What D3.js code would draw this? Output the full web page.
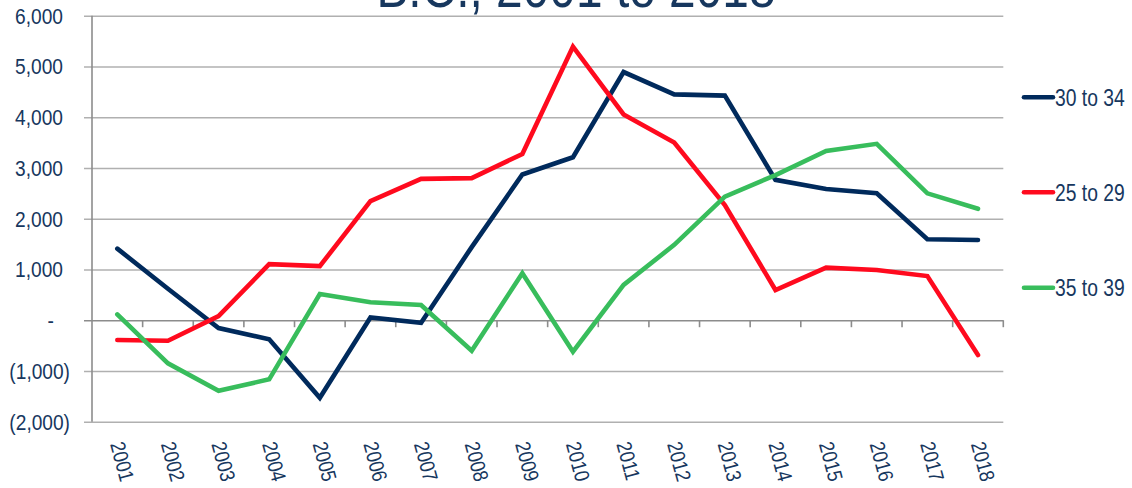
<!DOCTYPE html>
<html>
<head>
<meta charset="utf-8">
<script src="https://cdn.jsdelivr.net/npm/d3@7"></script>
<style>
html,body{margin:0;padding:0;background:#fff;}
svg{display:block;}
text{font-family:"Liberation Sans",Arial,sans-serif;}
</style>
</head>
<body>
<svg id="chart" width="1132" height="488"></svg>
<script>
const years = ["2001","2002","2003","2004","2005","2006","2007","2008","2009","2010","2011","2012","2013","2014","2015","2016","2017","2018"];
const age30to34 = [1410, 620, -155, -375, -1530, 55, -50, 1440, 2870, 3210, 4890, 4450, 4425, 2765, 2585, 2500, 1595, 1580];
const age25to29 = [-390, -405, 80, 1105, 1065, 2345, 2785, 2800, 3275, 5390, 4055, 3500, 2270, 595, 1035, 990, 870, -685];
const age35to39 = [115, -850, -1390, -1165, 515, 355, 300, -600, 925, -620, 695, 1485, 2435, 2860, 3335, 3475, 2500, 2195];
const yTicks = [-2000, -1000, 0, 1000, 2000, 3000, 4000, 5000, 6000];
const titleText = "B.C., 2001 to 2018";

const series = [
  {name: "30 to 34", values: age30to34, color: "#002a5c"},
  {name: "25 to 29", values: age25to29, color: "#ff0a1e"},
  {name: "35 to 39", values: age35to39, color: "#38bd5c"}
];

(function () {
const svg = d3.select("#chart");
const textColor = "#17375e";

const pLeft = 92, pRight = 1003.3, pTop = 15.7, pBottom = 421.7;
const x = d3.scaleBand().domain(years).range([pLeft, pRight]).padding(0);
const y = d3.scaleLinear().domain([-2000, 6000]).range([pBottom, pTop]);
const cx = d => x(d) + x.bandwidth() / 2;

// Title (second line, cropped at top as in the source)
svg.append("text")
  .attr("transform", "translate(576,6.5) scale(0.84,1)")
  .attr("text-anchor", "middle")
  .attr("font-size", 57)
  .attr("fill", textColor)
  .text(titleText);

// Gridlines with outer ticks
const fmt = v => v === 0 ? "-" : (v < 0 ? "(" + d3.format(",")(-v) + ")" : d3.format(",")(v));
const gY = svg.append("g").attr("transform", `translate(${pLeft},0)`)
  .call(d3.axisLeft(y).tickValues(yTicks).tickSize(-(pRight - pLeft)).tickSizeOuter(0).tickFormat(""));
gY.select(".domain").remove();
gY.selectAll(".tick line")
  .attr("x1", -8)
  .attr("stroke", d => d === 0 ? "#8c8c8c" : "#b0b0b0")
  .attr("stroke-width", 1.6);

// Y labels
svg.append("g").selectAll("text").data(yTicks).join("text")
  .attr("transform", d => `translate(${d === 0 ? 54 : (d < 0 ? 70 : 63)},${y(d)}) scale(0.87,1)`)
  .attr("dy", "0.36em")
  .attr("text-anchor", "end")
  .attr("font-size", 22)
  .attr("fill", textColor)
  .text(fmt);

// Vertical axis line
svg.append("line")
  .attr("x1", pLeft).attr("x2", pLeft)
  .attr("y1", y(6000)).attr("y2", y(-2000))
  .attr("stroke", "#8c8c8c").attr("stroke-width", 1.6);

// Category tick marks on the zero line
const boundaries = years.slice(1).map(d => x(d)).concat([pRight]);
svg.append("g").selectAll("line").data(boundaries).join("line")
  .attr("x1", d => d).attr("x2", d => d)
  .attr("y1", y(0)).attr("y2", y(0) + 7)
  .attr("stroke", "#8c8c8c").attr("stroke-width", 1.6);

// X labels rotated
svg.append("g").selectAll("text").data(years).join("text")
  .attr("transform", d => `translate(${cx(d) - 7.3},444) rotate(75) scale(0.86,1)`)
  .attr("font-size", 21)
  .attr("fill", textColor)
  .text(d => d);

// Lines
const line = d3.line().x((d, i) => cx(years[i])).y(d => y(d));
svg.append("g").selectAll("path").data(series).join("path")
  .attr("d", s => line(s.values))
  .attr("fill", "none")
  .attr("stroke", s => s.color)
  .attr("stroke-width", 4.6)
  .attr("stroke-linejoin", "miter")
  .attr("stroke-linecap", "round");

// Legend
const legendY = [97.3, 192.3, 287.7];
const lg = svg.append("g").selectAll("g").data(series).join("g")
  .attr("transform", (s, i) => `translate(1024,${legendY[i]})`);
lg.append("line").attr("x1", 0).attr("x2", 29)
  .attr("stroke", s => s.color).attr("stroke-width", 4.6).attr("stroke-linecap", "round");
lg.append("text")
  .attr("transform", "translate(31,0) scale(0.84,1)")
  .attr("dy", "0.36em")
  .attr("font-size", 23).attr("fill", textColor)
  .text(s => s.name);
})();
</script>
</body>
</html>
